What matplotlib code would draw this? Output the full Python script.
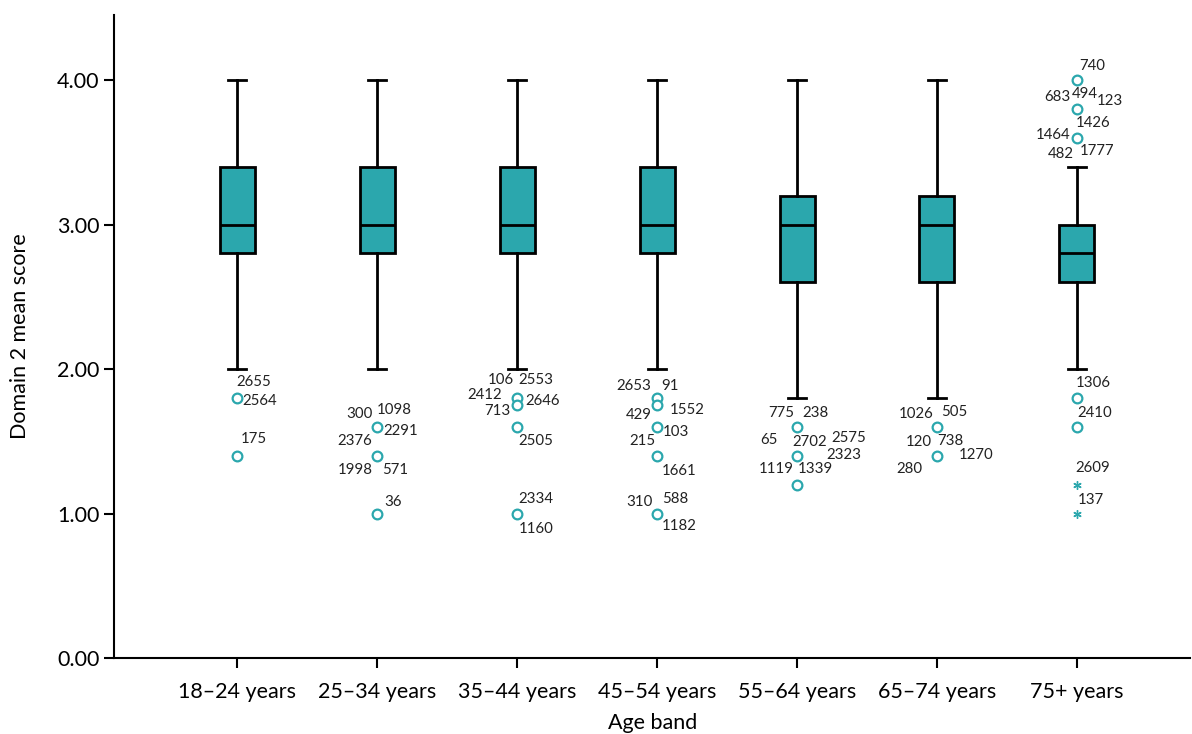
import matplotlib.pyplot as plt

plt.rcParams['font.family'] = ['Lato', 'DejaVu Sans']

# age bands and box summary (domain 2 mean score)
age_bands = ['18–24 years', '25–34 years', '35–44 years', '45–54 years',
             '55–64 years', '65–74 years', '75+ years']
whisker_low = [2.0, 2.0, 2.0, 2.0, 1.8, 1.8, 2.0]
q1 = [2.8, 2.8, 2.8, 2.8, 2.6, 2.6, 2.6]
medians = [3.0, 3.0, 3.0, 3.0, 3.0, 3.0, 2.8]
q3 = [3.4, 3.4, 3.4, 3.4, 3.2, 3.2, 3.0]
whisker_high = [4.0, 4.0, 4.0, 4.0, 4.0, 4.0, 3.4]

# outliers (circles) and extremes (asterisks) per band
outliers = [
    [1.8, 1.4],
    [1.6, 1.4, 1.0],
    [1.8, 1.75, 1.6, 1.0],
    [1.8, 1.75, 1.6, 1.4, 1.0],
    [1.6, 1.4, 1.2],
    [1.6, 1.4],
    [4.0, 3.8, 3.6, 1.8, 1.6],
]
extremes = [[], [], [], [], [], [], [1.2, 1.0]]

# case labels: (band index, score, case id, dx px, dy px)
case_labels = [
    (0, 1.8, '2655', 17, 16), (0, 1.8, '2564', 23, -3), (0, 1.4, '175', 17, 17),
    (1, 1.6, '300', -18, 13), (1, 1.6, '1098', 17, 17), (1, 1.6, '2291', 24, -4),
    (1, 1.4, '2376', -22, 15), (1, 1.4, '1998', -22, -14), (1, 1.4, '571', 18, -14),
    (1, 1.0, '36', 16, 12),
    (2, 1.8, '106', -16, 18), (2, 1.8, '2553', 19, 18), (2, 1.8, '2412', -32, 3),
    (2, 1.75, '2646', 26, 4), (2, 1.75, '713', -20, -6), (2, 1.6, '2505', 19, -14),
    (2, 1.0, '2334', 19, 15), (2, 1.0, '1160', 19, -15),
    (3, 1.8, '2653', -23, 12), (3, 1.8, '91', 13, 12), (3, 1.75, '1552', 30, -5),
    (3, 1.75, '429', -18, -10), (3, 1.6, '103', 19, -5), (3, 1.6, '215', -15, -14),
    (3, 1.4, '1661', 22, -15), (3, 1.0, '310', -18, 12), (3, 1.0, '588', 18, 15),
    (3, 1.0, '1182', 22, -12),
    (4, 1.6, '775', -16, 14), (4, 1.6, '238', 18, 14), (4, 1.4, '65', -28, 16),
    (4, 1.4, '2702', 13, 14), (4, 1.4, '2575', 52, 18), (4, 1.4, '2323', 47, 1),
    (4, 1.2, '1119', -21, 16), (4, 1.2, '1339', 18, 16),
    (5, 1.6, '1026', -21, 13), (5, 1.6, '505', 17, 15), (5, 1.4, '120', -18, 14),
    (5, 1.4, '738', 13, 15), (5, 1.4, '1270', 39, 1), (5, 1.4, '280', -28, -13),
    (6, 4.0, '740', 15, 14), (6, 3.8, '683', -20, 12), (6, 3.8, '494', 8, 15),
    (6, 3.8, '123', 33, 8), (6, 3.6, '1426', 16, 15), (6, 3.6, '1464', -24, 3),
    (6, 3.6, '482', -16, -16), (6, 3.6, '1777', 20, -13),
    (6, 1.8, '1306', 16, 15), (6, 1.6, '2410', 18, 14),
    (6, 1.2, '2609', 16, 17), (6, 1.0, '137', 14, 14),
]

teal = '#2ba7ad'

stats = []
for i in range(len(age_bands)):
    stats.append({'whislo': whisker_low[i], 'q1': q1[i], 'med': medians[i],
                  'q3': q3[i], 'whishi': whisker_high[i], 'fliers': outliers[i]})

fig = plt.figure(figsize=(11.92, 7.34), dpi=100)
ax = fig.add_axes([0.0956, 0.1035, 0.903, 0.876])

pos = list(range(len(age_bands)))
ax.bxp(stats, positions=pos, widths=0.25, patch_artist=True, showfliers=True,
       boxprops=dict(facecolor=teal, edgecolor='black', linewidth=2),
       medianprops=dict(color='black', linewidth=2),
       whiskerprops=dict(color='black', linewidth=2),
       capprops=dict(color='black', linewidth=2),
       capwidths=0.13,
       flierprops=dict(marker='o', markerfacecolor='white', markeredgecolor=teal,
                       markeredgewidth=1.6, markersize=7, linestyle='none'))

for i, vals in enumerate(extremes):
    if vals:
        ax.plot([i] * len(vals), vals, linestyle='none', marker=(6, 2, 0),
                markersize=6, color=teal, markeredgewidth=1.0)

for band, score, text, dx, dy in case_labels:
    ax.annotate(text, xy=(band, score), xytext=(dx, dy), textcoords='offset pixels',
                ha='center', va='center', fontsize=10.8, color='#222222')

ax.set_xlim(-0.88, 6.81)
ax.set_ylim(0, 4.45)
ax.set_yticks([0, 1, 2, 3, 4])
ax.set_yticklabels(['0.00', '1.00', '2.00', '3.00', '4.00'])
ax.set_xticks(pos)
ax.set_xticklabels(age_bands)
ax.tick_params(axis='both', labelsize=15.5, length=7, width=1.5, direction='out',
               colors='black')
ax.tick_params(axis='x', pad=10)
ax.spines['top'].set_visible(False)
ax.spines['right'].set_visible(False)
ax.spines['left'].set_linewidth(1.5)
ax.spines['bottom'].set_linewidth(1.5)

ax.set_xlabel('Age band', fontsize=15.5, labelpad=8)
ax.set_ylabel('Domain 2 mean score', fontsize=15.5, labelpad=19)

fig.savefig('out.png', dpi=100)
